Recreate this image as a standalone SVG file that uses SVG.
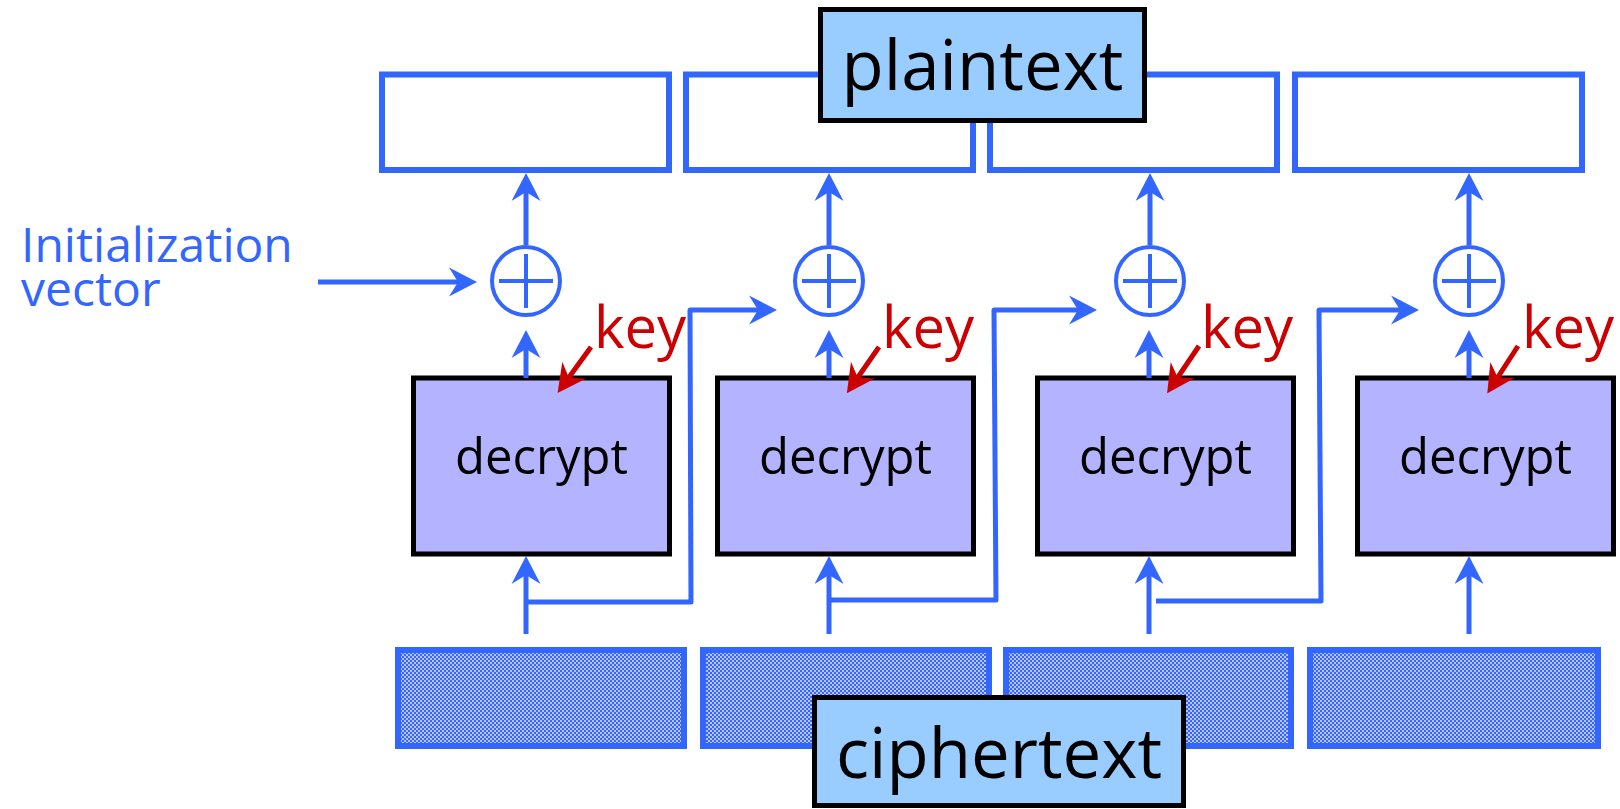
<svg xmlns="http://www.w3.org/2000/svg" width="1620" height="809" viewBox="0 0 1620 809">
<style>
.pt{fill:#ffffff;stroke:#3366ff;stroke-width:6}
.ct{fill:url(#chk);stroke:#3366ff;stroke-width:6}
.dec{fill:#b3b3ff;stroke:#000000;stroke-width:5}
.lbl{fill:#99ccff;stroke:#000000;stroke-width:5}
.xor{fill:none;stroke:#3366ff;stroke-width:4}
.big{font-family:"Open Sans","Noto Sans",sans-serif;font-size:69px;fill:#000000;text-anchor:middle}
.dt{font-family:"Open Sans","Noto Sans",sans-serif;font-size:49px;fill:#000000;text-anchor:middle}
.key{font-family:"Open Sans","Noto Sans",sans-serif;font-size:58px;fill:#cc0000}
.iv{font-family:"Open Sans","Noto Sans",sans-serif;font-size:48px;fill:#3366ff}
.bl{fill:none;stroke:#3366ff;stroke-width:5;stroke-linejoin:round;marker-end:url(#ab)}
.rl{fill:none;stroke:#cc0000;stroke-width:5;marker-end:url(#ar)}
</style>
<defs>
<pattern id="chk" patternUnits="userSpaceOnUse" width="4" height="4">
<rect width="4" height="4" fill="#3366ff"/>
<rect x="0" y="0" width="2" height="2" fill="#b8c4ff"/>
<rect x="2" y="2" width="2" height="2" fill="#b8c4ff"/>
</pattern>
<marker id="ab" markerUnits="userSpaceOnUse" markerWidth="30" markerHeight="30" refX="12" refY="15" orient="auto" overflow="visible">
<path d="M0,0.5 L28,15 L0,29.5 L9,15 Z" fill="#3366ff"/>
</marker>
<marker id="ar" markerUnits="userSpaceOnUse" markerWidth="30" markerHeight="30" refX="12" refY="15" orient="auto" overflow="visible">
<path d="M0,0.5 L28,15 L0,29.5 L9,15 Z" fill="#cc0000"/>
</marker>
</defs>

<g id="plaintext-blocks">
<rect class="pt" x="382" y="74.5" width="287" height="95.5"/>
<rect class="pt" x="686" y="74.5" width="287" height="95.5"/>
<rect class="pt" x="990" y="74.5" width="287" height="95.5"/>
<rect class="pt" x="1295" y="74.5" width="287" height="95.5"/>
</g>
<g id="plaintext-label">
<rect class="lbl" x="820.5" y="9.5" width="324" height="111"/>
<text class="big" x="982.5" y="90">plaintext</text>
</g>

<g id="ciphertext-blocks">
<rect class="ct" x="398" y="650" width="286" height="96"/>
<rect class="ct" x="703" y="650" width="286" height="96"/>
<rect class="ct" x="1006" y="650" width="285" height="96"/>
<rect class="ct" x="1310" y="650" width="288" height="96"/>
</g>
<g id="ciphertext-label">
<rect class="lbl" x="814.5" y="697.5" width="369" height="108"/>
<text class="big" x="999" y="778">ciphertext</text>
</g>

<g id="iv-label">
<text class="iv" x="21" y="262">Initialization</text>
<text class="iv" x="21" y="306">vector</text>
</g>

<g id="xor1"><circle class="xor" cx="526" cy="281" r="34"/><path class="xor" d="M499,281 H553 M526,254 V308"/></g>
<g id="xor2"><circle class="xor" cx="829" cy="281" r="34"/><path class="xor" d="M802,281 H856 M829,254 V308"/></g>
<g id="xor3"><circle class="xor" cx="1150" cy="281" r="34"/><path class="xor" d="M1123,281 H1177 M1150,254 V308"/></g>
<g id="xor4"><circle class="xor" cx="1469" cy="281" r="34"/><path class="xor" d="M1442,281 H1496 M1469,254 V308"/></g>

<g id="decrypt1"><rect class="dec" x="413.5" y="378" width="256" height="176"/><text class="dt" x="541.5" y="474">decrypt</text></g>
<g id="decrypt2"><rect class="dec" x="717.5" y="378" width="256" height="176"/><text class="dt" x="845.5" y="474">decrypt</text></g>
<g id="decrypt3"><rect class="dec" x="1037.5" y="378" width="256" height="176"/><text class="dt" x="1165.5" y="474">decrypt</text></g>
<g id="decrypt4"><rect class="dec" x="1357.5" y="378" width="256" height="176"/><text class="dt" x="1485.5" y="474">decrypt</text></g>

<g id="keys">
<text class="key" x="594" y="348">key</text>
<text class="key" x="882" y="348">key</text>
<text class="key" x="1201" y="348">key</text>
<text class="key" x="1522" y="348">key</text>
</g>

<g id="connectors">
<path class="bl" d="M318,282 H461"/>
<path class="bl" d="M526,245 V189"/>
<path class="bl" d="M829,245 V189"/>
<path class="bl" d="M1150,245 V189"/>
<path class="bl" d="M1469,245 V189"/>
<path class="bl" d="M526,378 V346"/>
<path class="bl" d="M829,378 V346"/>
<path class="bl" d="M1149,378 V346"/>
<path class="bl" d="M1469,378 V346"/>
<path class="bl" d="M526,634 V572"/>
<path class="bl" d="M829,634 V572"/>
<path class="bl" d="M1149,634 V572"/>
<path class="bl" d="M1469,634 V572"/>
<path class="bl" d="M526,602 H691 L690,310 H761"/>
<path class="bl" d="M829,600 H996 L994,310 H1081"/>
<path class="bl" d="M1156,601 H1321 L1319,310 H1403"/>
<path class="rl" d="M591,347 L567,380"/>
<path class="rl" d="M879,347 L856,380"/>
<path class="rl" d="M1199,346 L1176,380"/>
<path class="rl" d="M1518,346 L1496,380"/>
</g>
</svg>
